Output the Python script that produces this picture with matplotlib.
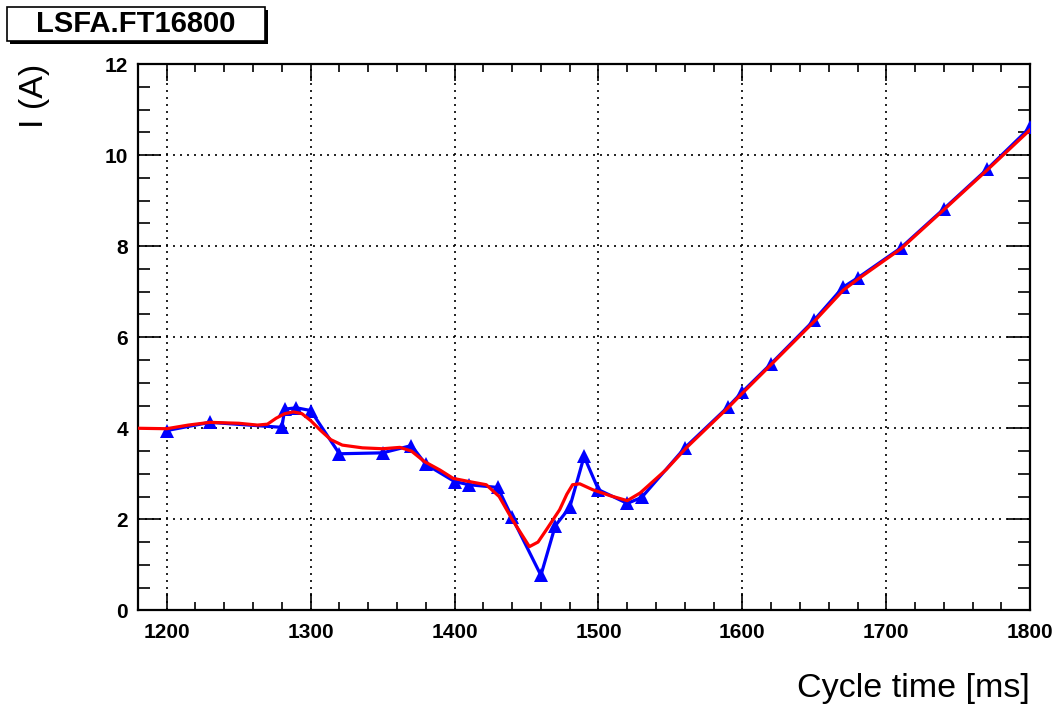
import matplotlib
matplotlib.use("Agg")
import matplotlib.pyplot as plt
from matplotlib.patches import Rectangle
from matplotlib.ticker import MultipleLocator

plt.rcParams['font.family'] = ['Liberation Sans', 'DejaVu Sans']

# reference points (blue triangles)
ref_t = [1200, 1230, 1280, 1282, 1290, 1300, 1320, 1350, 1370, 1380, 1400, 1410,
         1430, 1440, 1460, 1470, 1480, 1490, 1500, 1520, 1530, 1560, 1590, 1600,
         1620, 1650, 1670, 1680, 1710, 1740, 1770, 1800]
ref_i = [3.95, 4.13, 4.02, 4.42, 4.45, 4.39, 3.44, 3.46, 3.62, 3.21, 2.83, 2.76,
         2.70, 2.04, 0.77, 1.86, 2.26, 3.38, 2.65, 2.35, 2.48, 3.57, 4.47, 4.80,
         5.42, 6.38, 7.10, 7.30, 7.96, 8.82, 9.69, 10.61]

# measured current (red)
meas_t = [1180, 1200, 1215, 1230, 1250, 1263, 1270, 1276, 1282, 1288, 1294, 1300,
          1307, 1314, 1322, 1336, 1350, 1362, 1370, 1379, 1390, 1399, 1410, 1422,
          1431, 1440, 1446, 1452, 1458, 1464, 1473, 1478, 1482, 1487, 1496, 1508,
          1520, 1529, 1547, 1561, 1590, 1600, 1620, 1650, 1670, 1680, 1710, 1740,
          1770, 1800]
meas_i = [4.00, 3.99, 4.07, 4.13, 4.11, 4.07, 4.09, 4.22, 4.32, 4.36, 4.32, 4.17,
          3.95, 3.75, 3.63, 3.57, 3.55, 3.58, 3.50, 3.27, 3.08, 2.90, 2.83, 2.76,
          2.50, 2.00, 1.70, 1.40, 1.50, 1.78, 2.21, 2.55, 2.76, 2.78, 2.65, 2.52,
          2.41, 2.58, 3.09, 3.57, 4.45, 4.77, 5.40, 6.35, 7.03, 7.27, 7.94, 8.80,
          9.67, 10.56]

fig = plt.figure(figsize=(10.61, 7.04), dpi=100)
ax = fig.add_axes([0.130, 0.133, 0.841, 0.776])

ax.plot(ref_t, ref_i, color='#0000ff', lw=2.3, marker='^', ms=10,
        markeredgewidth=0, zorder=3)
ax.plot(meas_t, meas_i, color='#ff0000', lw=2.3, zorder=4)

ax.set_xlim(1180, 1800)
ax.set_ylim(0, 12)
ax.xaxis.set_major_locator(MultipleLocator(100))
ax.xaxis.set_minor_locator(MultipleLocator(20))
ax.yaxis.set_major_locator(MultipleLocator(2))
ax.yaxis.set_minor_locator(MultipleLocator(0.5))

ax.grid(True, which='major', color='black', linestyle=(0, (1.2, 3)), lw=1.2)
ax.tick_params(axis='both', which='both', direction='in', top=True, right=True,
               labelsize=15, width=1.2)
ax.tick_params(axis='x', which='major', length=12, pad=9)
ax.tick_params(axis='x', which='minor', length=5.5)
ax.tick_params(axis='y', which='major', length=16.5, pad=7)
ax.tick_params(axis='y', which='minor', length=8.6)
for lab in ax.get_xticklabels() + ax.get_yticklabels():
    lab.set_fontweight('bold')
for sp in ax.spines.values():
    sp.set_linewidth(1.6)

ax.set_xlabel('Cycle time [ms]', fontsize=24.5)
ax.xaxis.set_label_coords(1.0, -0.115)
ax.xaxis.label.set_horizontalalignment('right')
ax.set_ylabel('I (A)', fontsize=24.5)
ax.yaxis.set_label_coords(-0.099, 1.0)
ax.yaxis.label.set_horizontalalignment('right')

# title box with shadow
W, H = 1061.0, 704.0
fig.patches.append(Rectangle((10 / W, 1 - 44 / H), 258 / W, 34 / H,
                             transform=fig.transFigure, facecolor='black',
                             edgecolor='black', lw=0))
fig.patches.append(Rectangle((7 / W, 1 - 41 / H), 258 / W, 34 / H,
                             transform=fig.transFigure, facecolor='white',
                             edgecolor='black', lw=1.2))
fig.text(136 / W, 1 - 24 / H, 'LSFA.FT16800', ha='center', va='center',
         fontsize=21, fontweight='bold')

fig.savefig('out.png', dpi=100)
